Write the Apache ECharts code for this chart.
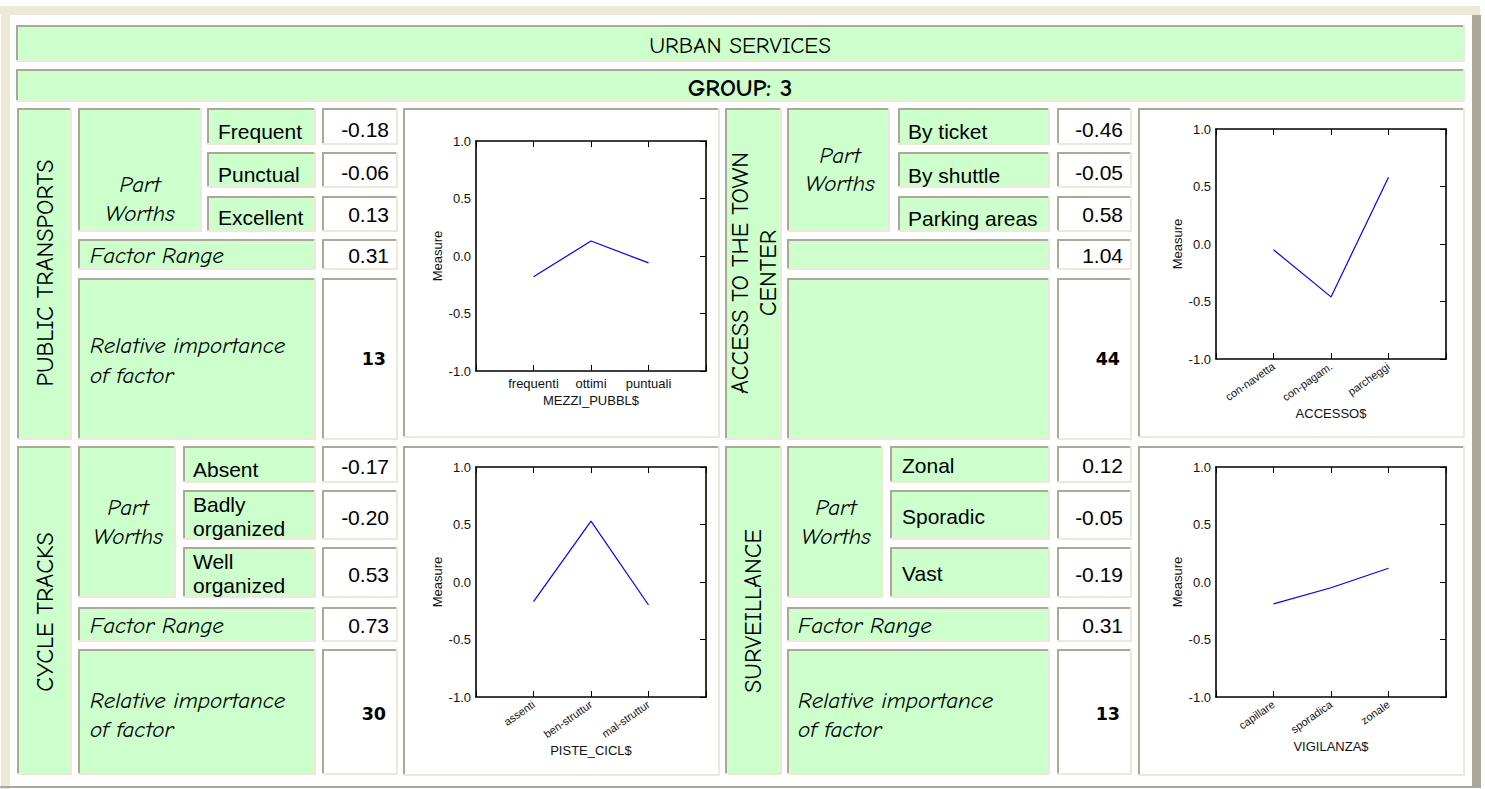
<!DOCTYPE html>
<html><head><meta charset="utf-8">
<script src="https://cdn.jsdelivr.net/npm/echarts@6/dist/echarts.min.js"></script>
<style>html,body{margin:0;padding:0;background:#fff;}#c{width:1485px;height:789px;}</style>
</head><body><div id="c"></div>
<script>
// ---------- DATA ----------
const titleText = 'URBAN SERVICES';
const groupText = 'GROUP: 3';
const factorNames = ['PUBLIC TRANSPORTS', 'ACCESS TO THE TOWN\nCENTER', 'CYCLE TRACKS', 'SURVEILLANCE'];
const partWorthsLabel = 'Part\nWorths';
const rangeLabels = ['Factor Range', '', 'Factor Range', 'Factor Range'];
const importanceLabels = ['Relative importance\nof factor', '', 'Relative importance\nof factor', 'Relative importance\nof factor'];

const transportLevels = ['Frequent', 'Punctual', 'Excellent'];
const transportWorths = [-0.18, -0.06, 0.13];
const accessLevels = ['By ticket', 'By shuttle', 'Parking areas'];
const accessWorths = [-0.46, -0.05, 0.58];
const cycleLevels = ['Absent', 'Badly\norganized', 'Well\norganized'];
const cycleWorths = [-0.17, -0.20, 0.53];
const surveillanceLevels = ['Zonal', 'Sporadic', 'Vast'];
const surveillanceWorths = [0.12, -0.05, -0.19];

const factorRanges = [0.31, 1.04, 0.73, 0.31];
const factorImportance = [13, 44, 30, 13];

const transportCats = ['frequenti', 'ottimi', 'puntuali'];
const transportMeasure = [-0.18, 0.13, -0.06];
const accessCats = ['con-navetta', 'con-pagam.', 'parcheggi'];
const accessMeasure = [-0.05, -0.46, 0.58];
const cycleCats = ['assenti', 'ben-struttur', 'mal-struttur'];
const cycleMeasure = [-0.17, 0.53, -0.20];
const surveillanceCats = ['capillare', 'sporadica', 'zonale'];
const surveillanceMeasure = [-0.19, -0.05, 0.12];

const axisNames = ['MEZZI_PUBBL$', 'ACCESSO$', 'PISTE_CICL$', 'VIGILANZA$'];
const yTicks = [-1.0, -0.5, 0.0, 0.5, 1.0];

// ---------- LAYOUT ----------
const levelsList = [transportLevels, accessLevels, cycleLevels, surveillanceLevels];
const worthsList = [transportWorths, accessWorths, cycleWorths, surveillanceWorths];
const catsList = [transportCats, accessCats, cycleCats, surveillanceCats];
const measList = [transportMeasure, accessMeasure, cycleMeasure, surveillanceMeasure];

const GREEN = '#CCFFCC', GRAY = '#ACA899', BEIGE = '#ECE9D8';
const COMIC = "'Comic Sans MS','Comic Neue','DejaVu Sans',sans-serif";
const ARIAL = "Arial,'Liberation Sans',sans-serif";

const L = [
  {name:[17,108,55,332], nameXY:[45,273], pw:[78,108,124,124], pwY:[184,213], pwX:140,
   lvX:207, lvW:109, lvTX:218, rows:[[108,37],[152,36],[196,36]], rowTY:[131,174,217], valTY:[129,172,214],
   valX:322, valW:76, valTX:389, range:[239,31], rangeTY:255, imp:[278,162], impTY:[345,375], impVY:359,
   labelX:90, chart:[403,108,317,330]},
  {name:[725,108,57,332], nameXY:[754,273], pw:[787,108,103,124], pwY:[155,183], pwX:840,
   lvX:898, lvW:152, lvTX:908, rows:[[108,37],[152,36],[196,36]], rowTY:[131,175,218], valTY:[129,172,214],
   valX:1057, valW:75, valTX:1123, range:[239,31], rangeTY:255, imp:[278,162], impTY:[345,375], impVY:359,
   labelX:798, chart:[1138,108,327,330]},
  {name:[17,446,55,329], nameXY:[45,612], pw:[78,446,98,152], pwY:[507,536], pwX:128,
   lvX:183, lvW:133, lvTX:193, rows:[[446,37],[490,50],[547,51]], rowTY:[469,516,573], valTY:[466,517,574],
   valX:322, valW:76, valTX:389, range:[607,35], rangeTY:625, imp:[649,126], impTY:[700,729], impVY:714,
   labelX:90, chart:[403,446,317,330]},
  {name:[725,446,57,329], nameXY:[753,611], pw:[787,446,96,152], pwY:[507,536], pwX:836,
   lvX:890, lvW:160, lvTX:902, rows:[[446,37],[490,50],[547,51]], rowTY:[465,516,573], valTY:[465,517,574],
   valX:1057, valW:75, valTX:1123, range:[607,35], rangeTY:625, imp:[649,126], impTY:[700,729], impVY:714,
   labelX:798, chart:[1138,446,327,330]}
];

const els = [];
function rect(x, y, w, h, fill) {
  els.push({type:'rect', silent:true, z:0, shape:{x, y, width:w, height:h}, style:{fill}});
}
function box(x, y, w, h, fill) {
  rect(x, y, w, h, fill);
  rect(x, y, w, 2, GRAY);
  rect(x, y, 2, h, GRAY);
  rect(x, y + h - 2, w, 2, BEIGE);
  rect(x + w - 2, y, 2, h, BEIGE);
}
function txt(x, y, text, o) {
  o = o || {};
  const align = o.align || 'left';
  els.push({type:'text', silent:true, z:1, x, y, rotation:o.rot || 0,
    style:{text, fill:'#000', fontSize:o.size || 18, fontFamily:o.family || ARIAL,
      fontStyle:o.style || 'normal', fontWeight:o.weight || 'normal',
      align, textAlign:align, verticalAlign:'middle', textVerticalAlign:'middle',
      lineHeight:o.lh || Math.round((o.size || 18) * 1.25)}});
}

// frame
rect(0, 6, 1480, 9, BEIGE);
rect(1, 6, 9, 783, BEIGE);
rect(1472, 15, 9, 772, GRAY);
rect(0, 786, 1481, 2, GRAY);

// title rows
box(16, 25, 1449, 37, GREEN);
txt(740, 45, titleText, {align:'center', family:COMIC, size:23});
box(16, 69, 1449, 33, GREEN);
txt(740, 87, groupText, {align:'center', family:COMIC, size:25, weight:'bold'});

const CS = 23;
L.forEach((s, i) => {
  box(s.name[0], s.name[1], s.name[2], s.name[3], GREEN);
  txt(s.nameXY[0], s.nameXY[1], factorNames[i], {align:'center', family:COMIC, size:24, rot:Math.PI / 2, lh:28});
  box(s.pw[0], s.pw[1], s.pw[2], s.pw[3], GREEN);
  const pwLines = partWorthsLabel.split('\n');
  txt(s.pwX, s.pwY[0], pwLines[0], {align:'center', family:COMIC, size:CS, style:'italic'});
  txt(s.pwX, s.pwY[1], pwLines[1], {align:'center', family:COMIC, size:CS, style:'italic'});
  s.rows.forEach((r, k) => {
    box(s.lvX, r[0], s.lvW, r[1], GREEN);
    txt(s.lvTX, s.rowTY[k], levelsList[i][k], {size:21, lh:24});
    box(s.valX, r[0], s.valW, r[1], '#FFFFFF');
    txt(s.valTX, s.valTY[k], worthsList[i][k].toFixed(2), {size:21, align:'right'});
  });
  // range row
  box(s.pw[0], s.range[0], s.lvX + s.lvW - s.pw[0], s.range[1], GREEN);
  if (rangeLabels[i]) txt(s.labelX, s.rangeTY, rangeLabels[i], {family:COMIC, size:CS, style:'italic'});
  box(s.valX, s.range[0], s.valW, s.range[1], '#FFFFFF');
  txt(s.valTX, s.rangeTY, factorRanges[i].toFixed(2), {size:21, align:'right'});
  // importance row
  box(s.pw[0], s.imp[0], s.lvX + s.lvW - s.pw[0], s.imp[1], GREEN);
  if (importanceLabels[i]) {
    const il = importanceLabels[i].split('\n');
    txt(s.labelX, s.impTY[0], il[0], {family:COMIC, size:CS, style:'italic'});
    txt(s.labelX, s.impTY[1], il[1], {family:COMIC, size:CS, style:'italic'});
  }
  box(s.valX, s.imp[0], s.valW, s.imp[1], '#FFFFFF');
  txt(s.valTX - 3, s.impVY, String(factorImportance[i]), {family:"'DejaVu Sans',sans-serif", size:17.5, weight:'bold', align:'right'});
  // chart cell
  box(s.chart[0], s.chart[1], s.chart[2], s.chart[3], '#FFFFFF');
});

// ---------- CHARTS ----------
const gridPos = [[476,141],[1216,129],[476,467],[1216,467]];
const labelRotate = [0, 35, 35, 35];
const xNameGap = [23, 48, 47, 43];
const grids = [], xAxes = [], yAxes = [], series = [];
gridPos.forEach((g, i) => {
  grids.push({left:g[0], top:g[1], width:230, height:230, containLabel:false});
  const cats = catsList[i];
  const lineStyle = {color:'#000', width:1.6};
  xAxes.push({type:'value', gridIndex:i, min:0, max:4, interval:1, position:'bottom', z:10,
    axisLine:{show:true, onZero:false, lineStyle}, axisTick:{show:true, inside:true, length:6, lineStyle:{color:'#000', width:1}},
    splitLine:{show:false},
    axisLabel:{show:true, margin:6, rotate:labelRotate[i], fontSize:labelRotate[i] ? 11 : 13, color:'#111', fontFamily:ARIAL,
      formatter:(v) => (v >= 1 && v <= 3) ? cats[v - 1] : ''},
    name:axisNames[i], nameLocation:'middle', nameGap:xNameGap[i],
    nameTextStyle:{fontSize:13, color:'#111', fontFamily:ARIAL}});
  xAxes.push({type:'value', gridIndex:i, min:0, max:4, interval:1, position:'top', z:10,
    axisLine:{show:true, onZero:false, lineStyle}, axisTick:{show:true, inside:true, length:6, lineStyle:{color:'#000', width:1}},
    splitLine:{show:false}, axisLabel:{show:false}});
  yAxes.push({type:'value', gridIndex:i, min:yTicks[0], max:yTicks[yTicks.length - 1], interval:0.5, position:'left', z:10,
    axisLine:{show:true, onZero:false, lineStyle}, axisTick:{show:false}, splitLine:{show:false},
    axisLabel:{margin:5, fontSize:13, color:'#111', fontFamily:ARIAL, formatter:(v) => v.toFixed(1)},
    name:'Measure', nameLocation:'middle', nameGap:32, nameRotate:90,
    nameTextStyle:{fontSize:13, color:'#111', fontFamily:ARIAL}});
  yAxes.push({type:'value', gridIndex:i, min:yTicks[0], max:yTicks[yTicks.length - 1], interval:0.5, position:'right', z:10,
    axisLine:{show:true, onZero:false, lineStyle}, axisTick:{show:true, inside:true, length:6, lineStyle:{color:'#000', width:1}},
    splitLine:{show:false}, axisLabel:{show:false}});
  series.push({type:'line', xAxisIndex:2 * i, yAxisIndex:2 * i, z:11, showSymbol:false, symbol:'none', animation:false,
    lineStyle:{color:'#0000FF', width:1.2},
    data:measList[i].map((v, k) => [k + 1, v])});
});

const chart = echarts.init(document.getElementById('c'), null, {renderer:'svg', width:1485, height:789});
chart.setOption({
  animation:false,
  backgroundColor:'#FFFFFF',
  graphic:{elements:els},
  grid:grids, xAxis:xAxes, yAxis:yAxes, series
});
</script>
</body></html>
